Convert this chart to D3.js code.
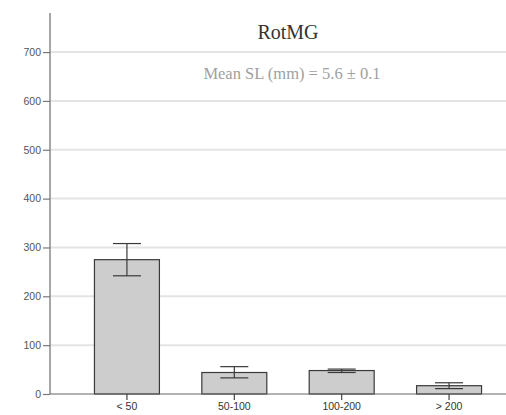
<!DOCTYPE html>
<html>
<head>
<meta charset="utf-8">
<script src="https://cdn.jsdelivr.net/npm/d3@7"></script>
<style>
  html, body { margin: 0; padding: 0; background: #fff; }
  svg { display: block; }
</style>
</head>
<body>
<svg id="chart" width="506" height="415"></svg>
<script>
const categories = ["< 50", "50-100", "100-200", "> 200"];
const values = [275, 44, 48, 17];
const errLow = [242, 33, 44, 11];
const errHigh = [308, 56, 51, 23];
const yTicks = [0, 100, 200, 300, 400, 500, 600, 700];
const title = "RotMG";
const subtitle = "Mean SL (mm) = 5.6 \u00B1 0.1";

const svg = d3.select("#chart");
const x0 = 50, yBase = 394;

const y = d3.scaleLinear().domain([0, 780]).range([yBase, 13]);
const x = d3.scaleBand().domain(categories).range([x0, 526])
  .paddingInner(0.395).paddingOuter(0.414);

// gridlines
svg.append("g").selectAll("line").data(yTicks.filter(d => d > 0)).join("line")
  .attr("x1", x0).attr("x2", 506)
  .attr("y1", d => y(d)).attr("y2", d => y(d))
  .attr("stroke", "#e4e4e4").attr("stroke-width", 2);

// y axis
const yAxis = svg.append("g").attr("transform", `translate(${x0},0)`)
  .call(d3.axisLeft(y).tickValues(yTicks).tickSize(7).tickPadding(2));
yAxis.select(".domain").attr("d", `M0,${y(780)}V${yBase}`).attr("stroke", "#8a8a8a").attr("stroke-width", 1.5);
yAxis.selectAll(".tick line").attr("stroke", "#777").attr("stroke-width", 1.2);
yAxis.selectAll(".tick text").attr("fill", "#555")
  .style("font-family", "'Liberation Sans', Arial, sans-serif").style("font-size", "10.5px");

// bars
svg.append("g").selectAll("rect").data(categories).join("rect")
  .attr("x", d => x(d)).attr("width", x.bandwidth())
  .attr("y", (d, i) => y(values[i])).attr("height", (d, i) => yBase - y(values[i]))
  .attr("fill", "#cdcdcd").attr("stroke", "#3a3a3a").attr("stroke-width", 1.2);

// x axis
const xAxis = svg.append("g").attr("transform", `translate(0,${yBase})`)
  .call(d3.axisBottom(x).tickSize(6).tickPadding(3));
xAxis.select(".domain").attr("d", `M${x0},0H506`).attr("stroke", "#666").attr("stroke-width", 1.2);
xAxis.selectAll(".tick line").attr("stroke", "#444").attr("stroke-width", 1.2);
xAxis.selectAll(".tick text").attr("fill", "#333")
  .style("font-family", "'Liberation Sans', Arial, sans-serif").style("font-size", "10.5px");

// error bars
const eb = svg.append("g").attr("stroke", "#3a3a3a").attr("stroke-width", 1.2);
const capW = 28;
categories.forEach((c, i) => {
  const cx = x(c) + x.bandwidth() / 2;
  eb.append("line").attr("x1", cx).attr("x2", cx).attr("y1", y(errHigh[i])).attr("y2", y(errLow[i]));
  eb.append("line").attr("x1", cx - capW / 2).attr("x2", cx + capW / 2).attr("y1", y(errHigh[i])).attr("y2", y(errHigh[i]));
  eb.append("line").attr("x1", cx - capW / 2).attr("x2", cx + capW / 2).attr("y1", y(errLow[i])).attr("y2", y(errLow[i]));
});

// title and subtitle
svg.append("text").attr("x", 288).attr("y", 39).attr("text-anchor", "middle")
  .attr("fill", "#333").style("font-family", "'Liberation Serif', 'Times New Roman', serif")
  .style("font-size", "20px").text(title);
svg.append("text").attr("x", 292).attr("y", 79).attr("text-anchor", "middle")
  .attr("fill", "#a0a0a0").style("font-family", "'Liberation Serif', 'Times New Roman', serif")
  .style("font-size", "16.5px").text(subtitle);
</script>
</body>
</html>
